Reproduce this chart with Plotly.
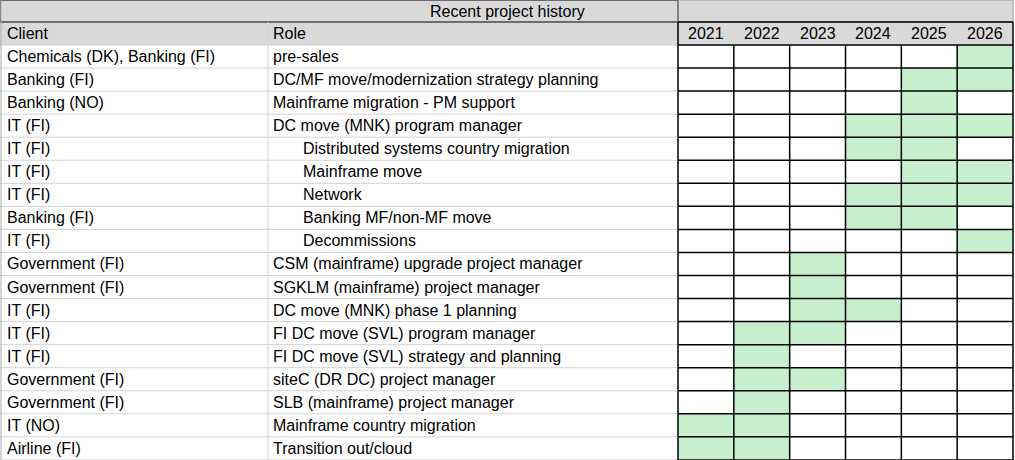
import plotly.graph_objects as go

title = "Recent project history"
years = ["2021", "2022", "2023", "2024", "2025", "2026"]
clients = ["Chemicals (DK), Banking (FI)", "Banking (FI)", "Banking (NO)", "IT (FI)", "IT (FI)",
           "IT (FI)", "IT (FI)", "Banking (FI)", "IT (FI)", "Government (FI)", "Government (FI)",
           "IT (FI)", "IT (FI)", "IT (FI)", "Government (FI)", "Government (FI)", "IT (NO)", "Airline (FI)"]
roles = ["pre-sales", "DC/MF move/modernization strategy planning", "Mainframe migration - PM support",
         "DC move (MNK) program manager", "Distributed systems country migration", "Mainframe move",
         "Network", "Banking MF/non-MF move", "Decommissions", "CSM (mainframe) upgrade project manager",
         "SGKLM (mainframe) project manager", "DC move (MNK) phase 1 planning",
         "FI DC move (SVL) program manager", "FI DC move (SVL) strategy and planning",
         "siteC (DR DC) project manager", "SLB (mainframe) project manager",
         "Mainframe country migration", "Transition out/cloud"]
indent = [0, 0, 0, 0, 1, 1, 1, 1, 1, 0, 0, 0, 0, 0, 0, 0, 0, 0]
active = [
    ["2026"], ["2025", "2026"], ["2025"], ["2024", "2025", "2026"], ["2024", "2025"],
    ["2025", "2026"], ["2024", "2025", "2026"], ["2024", "2025"], ["2026"],
    ["2023"], ["2023"], ["2023", "2024"], ["2022", "2023"], ["2022"], ["2022", "2023"],
    ["2022"], ["2021", "2022"], ["2021", "2022"],
]

W, H = 1015, 460
x_client, x_role, x_years, x_end = 0, 268, 678, 1013
colw = (x_end - x_years) / len(years)
row_h = 23.05
y0 = 45
font = dict(family="Liberation Sans, Arial", size=16, color="black")
gray = "#d9d9d9"
green = "#c6efce"

shapes, ann = [], []
shapes.append(dict(type="rect", x0=0, x1=x_end, y0=0, y1=y0, fillcolor=gray, line_width=0, layer="below"))
shapes.append(dict(type="rect", x0=0, x1=x_years, y0=0, y1=22, line=dict(color="black", width=1)))
shapes.append(dict(type="rect", x0=x_years, x1=x_end, y0=0, y1=22, line=dict(color="#999", width=1)))
ann.append(dict(x=507, y=11, text=title, showarrow=False, font=font))
ann.append(dict(x=5, y=33.5, text="Client", showarrow=False, xanchor="left", font=font))
ann.append(dict(x=x_role + 3, y=33.5, text="Role", showarrow=False, xanchor="left", font=font))
for j, yr in enumerate(years):
    ann.append(dict(x=x_years + colw * (j + 0.5), y=33.5, text=yr, showarrow=False, font=font))

n = len(clients)
for i in range(n):
    top = y0 + i * row_h
    cy = top + row_h / 2
    ann.append(dict(x=5, y=cy, text=clients[i], showarrow=False, xanchor="left", font=font))
    ann.append(dict(x=x_role + 3 + 30 * indent[i], y=cy, text=roles[i], showarrow=False, xanchor="left", font=font))
    for j, yr in enumerate(years):
        if yr in active[i]:
            shapes.append(dict(type="rect", x0=x_years + colw * j, x1=x_years + colw * (j + 1),
                               y0=top, y1=top + row_h, fillcolor=green, line_width=0, layer="below"))
    shapes.append(dict(type="line", x0=0, x1=x_years, y0=top + row_h, y1=top + row_h,
                       line=dict(color="#d4d4d4", width=1)))

bottom = y0 + n * row_h
shapes.append(dict(type="line", x0=x_role, x1=x_role, y0=22, y1=bottom, line=dict(color="#d4d4d4", width=1)))
shapes.append(dict(type="line", x0=0, x1=x_years, y0=y0, y1=y0, line=dict(color="#d4d4d4", width=1)))
for i in range(n + 1):
    y = y0 + i * row_h
    shapes.append(dict(type="line", x0=x_years, x1=x_end, y0=y, y1=y, line=dict(color="black", width=1.5)))
shapes.append(dict(type="line", x0=x_years, x1=x_end, y0=22, y1=22, line=dict(color="black", width=1.5)))
for j in range(len(years) + 1):
    x = x_years + colw * j
    shapes.append(dict(type="line", x0=x, x1=x, y0=y0 if 0 < j < len(years) else 22, y1=bottom,
                       line=dict(color="black", width=1.5)))
shapes.append(dict(type="line", x0=1, x1=1, y0=0, y1=bottom, line=dict(color="#aaa", width=1)))

fig = go.Figure()
fig.update_layout(width=W, height=H, margin=dict(l=0, r=0, t=0, b=0),
                  plot_bgcolor="white", paper_bgcolor="white",
                  xaxis=dict(range=[0, W], visible=False, fixedrange=True),
                  yaxis=dict(range=[H, 0], visible=False, fixedrange=True),
                  shapes=shapes, annotations=ann, showlegend=False)
fig.write_html("out.html", config={"displayModeBar": False})
with open("out.html", encoding="utf-8") as f:
    html = f.read()
html = html.replace("<head>", "<head><style>html,body{margin:0;padding:0;overflow:hidden}</style>", 1)
with open("out.html", "w", encoding="utf-8") as f:
    f.write(html)
